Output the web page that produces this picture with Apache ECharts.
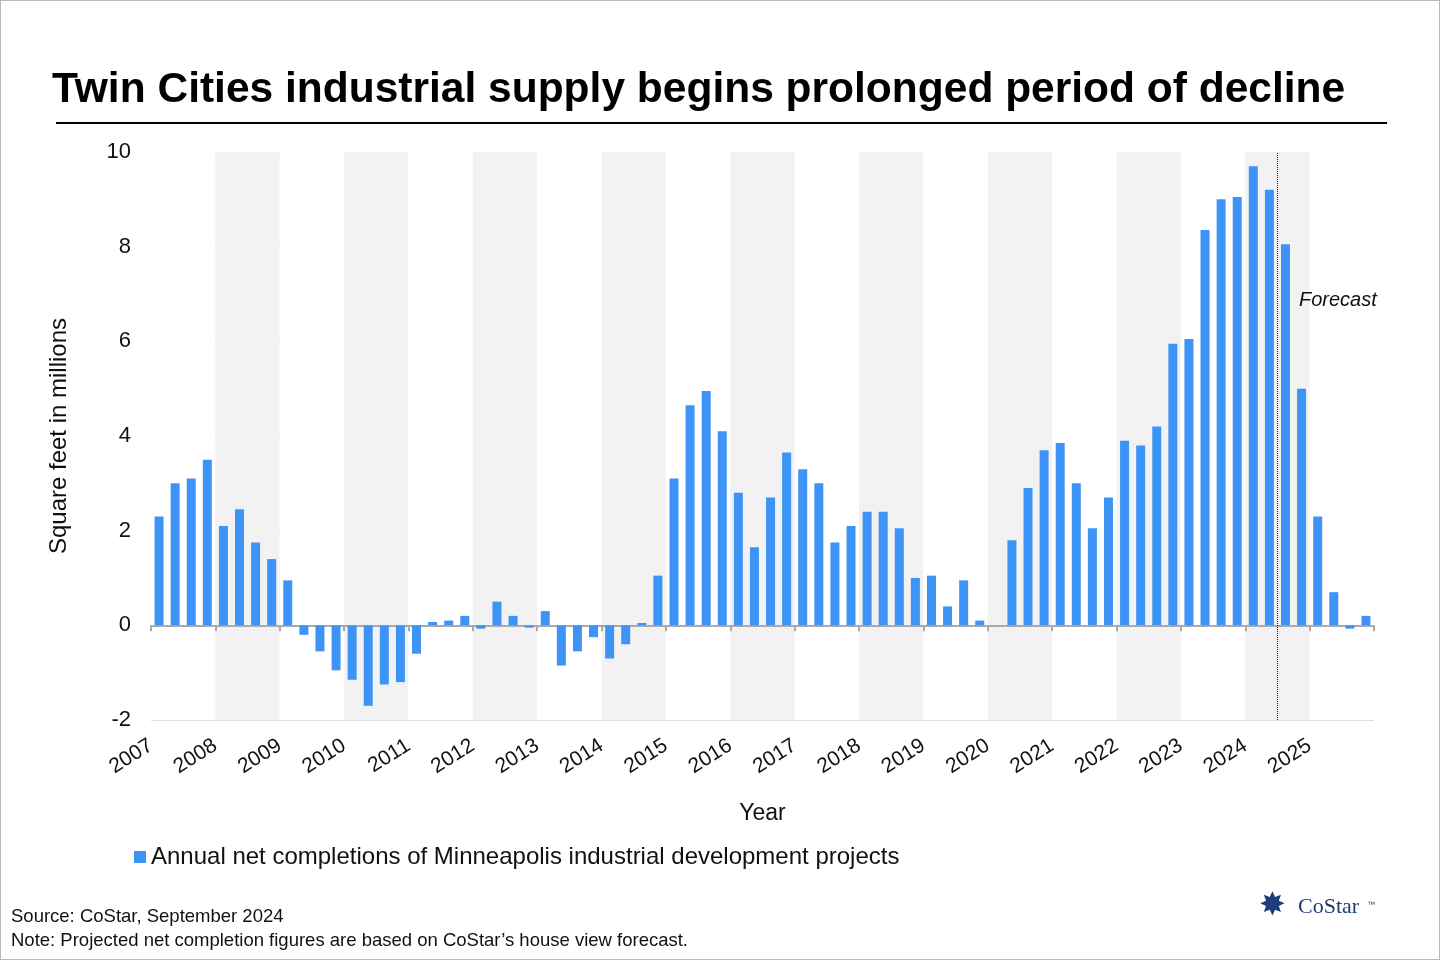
<!DOCTYPE html>
<html><head><meta charset="utf-8">
<script src="https://cdn.jsdelivr.net/npm/echarts@6/dist/echarts.min.js"></script>
<style>html,body{margin:0;padding:0;background:#fff}#c{width:1440px;height:960px;box-sizing:border-box;border:1px solid #bbb}</style>
</head><body><div id="c"></div>
<script>
const years = [2007,2008,2009,2010,2011,2012,2013,2014,2015,2016,2017,2018,2019,2020,2021,2022,2023,2024,2025];
const values = [
 2.3,3.0,3.1,3.5,
 2.1,2.45,1.75,1.4,
 0.95,-0.2,-0.55,-0.95,
 -1.15,-1.7,-1.25,-1.2,
 -0.6,0.07,0.1,0.2,
 -0.07,0.5,0.2,-0.05,
 0.3,-0.85,-0.55,-0.25,
 -0.7,-0.4,0.05,1.05,
 3.1,4.65,4.95,4.1,
 2.8,1.65,2.7,3.65,
 3.3,3.0,1.75,2.1,
 2.4,2.4,2.05,1.0,
 1.05,0.4,0.95,0.1,
 0,1.8,2.9,3.7,
 3.85,3.0,2.05,2.7,
 3.9,3.8,4.2,5.95,
 6.05,8.35,9.0,9.05,
 9.7,9.2,8.05,5.0,
 2.3,0.7,-0.07,0.2
];
const forecastStart = 70;
const yTicks = {min:-2,max:10,interval:2};
const ch = echarts.init(document.getElementById('c'));
const F = 'Arial, "Liberation Sans", sans-serif';
ch.setOption({
  animation:false,
  title:{text:'Twin Cities industrial supply begins prolonged period of decline',left:46,top:63,
    textStyle:{fontFamily:F,fontSize:42.5,fontWeight:'bold',color:'#000'}},
  grid:{left:150,right:65,top:151,bottom:239},
  legend:{left:128,top:839,itemWidth:12,itemHeight:12,icon:'rect',itemGap:6,
    textStyle:{fontFamily:F,fontSize:24,color:'#111'}},
  xAxis:[
    {type:'value',min:0,max:76,interval:4,
     axisLine:{onZero:true,lineStyle:{color:'#aaa',width:2}},
     axisTick:{show:true,length:6,inside:false,lineStyle:{color:'#aaa',width:2}},
     axisLabel:{show:false},splitLine:{show:false},
     splitArea:{show:true,areaStyle:{color:['#ffffff','#f2f2f2']}}},
    {type:'value',min:0,max:76,interval:4,position:'bottom',
     axisLine:{show:false},axisTick:{show:false},splitLine:{show:false},
     name:'Year',nameLocation:'middle',nameGap:82,
     nameTextStyle:{fontFamily:F,fontSize:23,color:'#111'},
     axisLabel:{rotate:32,fontFamily:F,fontSize:21,color:'#111',margin:24,
       formatter:v=>v>=76?'':String(years[0]+v/4)}}
  ],
  yAxis:{type:'value',min:yTicks.min,max:yTicks.max,interval:yTicks.interval,
    name:'Square feet in millions',nameLocation:'middle',nameGap:80,
    nameTextStyle:{fontFamily:F,fontSize:24,color:'#111'},
    axisLine:{show:false},axisTick:{show:false},
    axisLabel:{fontFamily:F,fontSize:22,color:'#111',margin:20},
    splitLine:{lineStyle:{color:'#ddd'}}},
  graphic:[
    {type:'line',z:100,shape:{x1:55,y1:122,x2:1386,y2:122},style:{stroke:'#000',lineWidth:2}},
    {type:'text',z:100,x:1298,y:289,style:{text:'Forecast',fontFamily:F,fontStyle:'italic',fontSize:20,fill:'#111'}},
    {type:'text',z:100,x:10,y:906,style:{text:'Source: CoStar, September 2024',fontFamily:F,fontSize:18.5,fill:'#111'}},
    {type:'text',z:100,x:10,y:930,style:{text:'Note: Projected net completion figures are based on CoStar\u2019s house view forecast.',fontFamily:F,fontSize:18.5,fill:'#111'}},
    {type:'text',z:100,x:1258,y:890,style:{text:'\u2738',fontFamily:'DejaVu Sans',fontSize:32,fill:'#1d3c78'}},
    {type:'text',z:100,x:1297,y:895,style:{text:'CoStar',fontFamily:'Liberation Serif',fontSize:22,fill:'#1d3c78'}},
    {type:'text',z:100,x:1366,y:900,style:{text:'\u2122',fontFamily:F,fontSize:8,fill:'#1d3c78'}}
  ],
  series:[{
    name:'Annual net completions of Minneapolis industrial development projects',
    type:'bar',xAxisIndex:0,barWidth:9,
    itemStyle:{color:'#3d94f6'},
    data:values.map((v,i)=>[i+0.5,v]),
    markLine:{silent:true,symbol:'none',label:{show:false},
      lineStyle:{color:'#222',type:'dotted',width:1},
      data:[{xAxis:forecastStart}]}
  }]
});
</script></body></html>
